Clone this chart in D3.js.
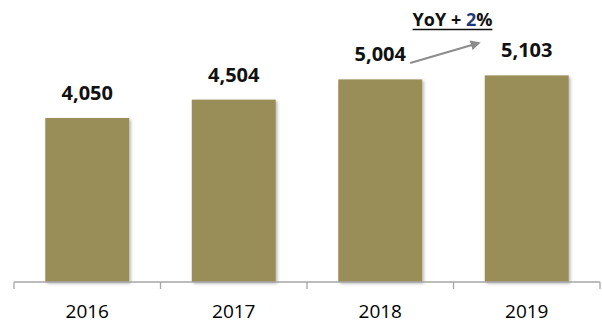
<!DOCTYPE html>
<html>
<head>
<meta charset="utf-8">
<script src="https://cdn.jsdelivr.net/npm/d3@7"></script>
<style>
  body { margin: 0; background: #fff; }
  svg { display: block; font-family: "Open Sans", "Liberation Sans", sans-serif; }
</style>
</head>
<body>
<div id="chart"></div>
<script>
var years = ["2016", "2017", "2018", "2019"];
var values = [4050, 4504, 5004, 5103];
var yoyLabel = "YoY + ";
var yoyValue = "2";
var yoySuffix = "%";

var width = 602,
    height = 324;
var baseline = 282;

var svg = d3.select("#chart").append("svg")
  .attr("width", width)
  .attr("height", height);

// soft shadow on the bars
var defs = svg.append("defs");
var shadow = defs.append("filter")
  .attr("id", "shadow")
  .attr("x", "-20%").attr("y", "-20%")
  .attr("width", "140%").attr("height", "140%");
shadow.append("feDropShadow")
  .attr("dx", 1.5).attr("dy", 1.5)
  .attr("stdDeviation", 1.8)
  .attr("flood-color", "#000")
  .attr("flood-opacity", 0.3);

defs.append("marker")
  .attr("id", "arrowhead")
  .attr("viewBox", "0 0 10 10")
  .attr("refX", 8).attr("refY", 5)
  .attr("markerWidth", 5).attr("markerHeight", 5)
  .attr("orient", "auto")
  .append("path")
  .attr("d", "M0,0 L10,5 L0,10 z")
  .attr("fill", "#8c8c8c");

//scales
var xScale = d3.scaleBand()
  .domain(years)
  .range([14, 600])
  .paddingInner(0.427)
  .paddingOuter(0.2135);

var yScale = d3.scaleLinear()
  .domain([0, 6000])
  .range([baseline, baseline - 6000 / 24.7]);

// bars
svg.append("g")
  .selectAll("rect")
  .data(values)
  .enter().append("rect")
  .attr("x", (d, i) => xScale(years[i]))
  .attr("y", d => yScale(d))
  .attr("width", xScale.bandwidth())
  .attr("height", d => yScale(0) - yScale(d))
  .attr("fill", "#998e58")
  .attr("filter", "url(#shadow)");

// x axis with ticks between the categories
var xAxis = svg.append("g")
  .attr("transform", "translate(0," + baseline + ")");
xAxis.append("line")
  .attr("x1", 14).attr("x2", 600)
  .attr("stroke", "#a6a6a6")
  .attr("stroke-width", 1.3);
xAxis.selectAll(".tick")
  .data(d3.range(years.length + 1))
  .enter().append("line")
  .attr("class", "tick")
  .attr("x1", i => 14 + i * (586 / years.length))
  .attr("x2", i => 14 + i * (586 / years.length))
  .attr("y1", 0).attr("y2", 7)
  .attr("stroke", "#a6a6a6")
  .attr("stroke-width", 1.3);
xAxis.selectAll(".year")
  .data(years)
  .enter().append("text")
  .attr("class", "year")
  .attr("x", d => xScale(d) + xScale.bandwidth() / 2)
  .attr("y", 36)
  .attr("text-anchor", "middle")
  .attr("font-size", 19)
  .attr("fill", "#000")
  .text(d => d);

// value labels
svg.append("g")
  .selectAll("text")
  .data(values)
  .enter().append("text")
  .attr("x", (d, i) => xScale(years[i]) + xScale.bandwidth() / 2)
  .attr("y", d => yScale(d) - 18)
  .attr("text-anchor", "middle")
  .attr("font-size", 20)
  .attr("font-weight", "bold")
  .attr("fill", "#111")
  .text(d => d3.format(",")(d));

// YoY annotation
var x18 = xScale("2018") + xScale.bandwidth() / 2;
var x19 = xScale("2019") + xScale.bandwidth() / 2;
svg.append("line")
  .attr("x1", x18 + 30).attr("y1", 63)
  .attr("x2", x19 - 48).attr("y2", 43)
  .attr("stroke", "#8c8c8c")
  .attr("stroke-width", 2)
  .attr("marker-end", "url(#arrowhead)");

var yoy = svg.append("text")
  .attr("x", (x18 + x19) / 2 - 1)
  .attr("y", 26)
  .attr("text-anchor", "middle")
  .attr("font-size", 18)
  .attr("font-weight", "bold")
  .attr("fill", "#111");
yoy.append("tspan").text(yoyLabel);
yoy.append("tspan").attr("fill", "#1f3c78").text(yoyValue);
yoy.append("tspan").text(yoySuffix);

var bb = yoy.node().getBBox();
svg.append("line")
  .attr("x1", bb.x).attr("x2", bb.x + bb.width)
  .attr("y1", 29.5).attr("y2", 29.5)
  .attr("stroke", "#111")
  .attr("stroke-width", 1.5);
</script>
</body>
</html>
